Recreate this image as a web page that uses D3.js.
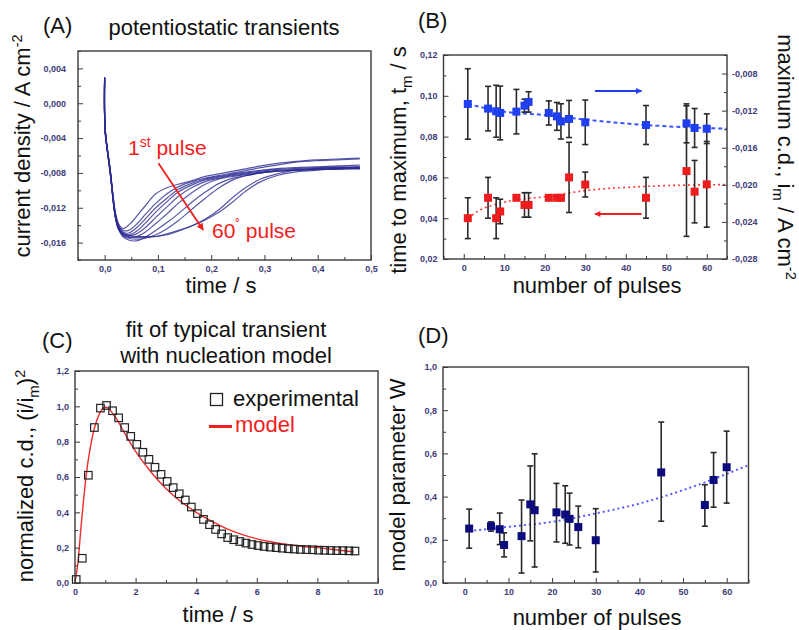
<!DOCTYPE html>
<html>
<head>
<meta charset="utf-8">
<script src="https://cdn.jsdelivr.net/npm/d3@7"></script>
<style>
body { margin: 0; background: #fff; }
svg { display: block; font-family: "Liberation Sans", Arial, sans-serif; }
.axis text { font-family: "Liberation Sans", Arial, sans-serif; font-weight: bold; font-size: 9px; fill: #3d3b78; }
</style>
</head>
<body>
<svg id="chart" width="799" height="630"></svg>
<script>
// (A) potentiostatic transients, shared time base + one row per pulse
var transTime = [0, 0.001, 0.0105, 0.02, 0.026, 0.034, 0.045, 0.06, 0.076, 0.096, 0.117, 0.138, 0.163, 0.189, 0.215, 0.241, 0.267, 0.293, 0.324, 0.355, 0.396, 0.437, 0.479];
var transCurves = [
    [0.0030, -0.0029, -0.0076, -0.0125, -0.0138, -0.0144, -0.0140, -0.0130, -0.0118, -0.0104, -0.0097, -0.0093, -0.0089, -0.0084, -0.0081, -0.0078, -0.0075, -0.0072, -0.0069, -0.0067, -0.0065, -0.0064, -0.0063],
    [0.0029, -0.0030, -0.0077, -0.0126, -0.0140, -0.0146, -0.0146, -0.0139, -0.0128, -0.0115, -0.0104, -0.0096, -0.0090, -0.0086, -0.0083, -0.0080, -0.0077, -0.0074, -0.0071, -0.0068, -0.0066, -0.0065, -0.0064],
    [0.0028, -0.0031, -0.0078, -0.0127, -0.0141, -0.0148, -0.0149, -0.0143, -0.0133, -0.0120, -0.0109, -0.0099, -0.0092, -0.0087, -0.0084, -0.0081, -0.0079, -0.0077, -0.0075, -0.0074, -0.0073, -0.0072, -0.0071],
    [-0.0032, -0.0036, -0.0080, -0.0128, -0.0142, -0.0149, -0.0151, -0.0147, -0.0138, -0.0125, -0.0113, -0.0102, -0.0094, -0.0088, -0.0085, -0.0082, -0.0080, -0.0078, -0.0076, -0.0075, -0.0074, -0.0073, -0.0073],
    [0.0029, -0.0030, -0.0078, -0.0128, -0.0142, -0.0150, -0.0152, -0.0150, -0.0143, -0.0131, -0.0119, -0.0107, -0.0097, -0.0090, -0.0086, -0.0083, -0.0081, -0.0079, -0.0077, -0.0076, -0.0075, -0.0074, -0.0074],
    [0.0030, -0.0030, -0.0079, -0.0129, -0.0143, -0.0151, -0.0154, -0.0153, -0.0148, -0.0138, -0.0127, -0.0115, -0.0103, -0.0093, -0.0087, -0.0084, -0.0082, -0.0080, -0.0078, -0.0077, -0.0076, -0.0075, -0.0075],
    [0.0029, -0.0031, -0.0080, -0.0130, -0.0144, -0.0153, -0.0157, -0.0158, -0.0154, -0.0146, -0.0137, -0.0127, -0.0114, -0.0102, -0.0092, -0.0086, -0.0083, -0.0080, -0.0078, -0.0077, -0.0076, -0.0076, -0.0075],
    [0.0028, -0.0031, -0.0080, -0.0131, -0.0145, -0.0152, -0.0155, -0.0156, -0.0155, -0.0151, -0.0144, -0.0135, -0.0122, -0.0109, -0.0097, -0.0088, -0.0083, -0.0080, -0.0078, -0.0077, -0.0076, -0.0075, -0.0075],
    [0.0029, -0.0030, -0.0079, -0.0130, -0.0144, -0.0150, -0.0152, -0.0153, -0.0153, -0.0153, -0.0151, -0.0147, -0.0141, -0.0133, -0.0122, -0.0108, -0.0096, -0.0087, -0.0081, -0.0077, -0.0075, -0.0074, -0.0074],
    [0.0030, -0.0030, -0.0079, -0.0130, -0.0144, -0.0150, -0.0153, -0.0154, -0.0154, -0.0153, -0.0150, -0.0146, -0.0141, -0.0134, -0.0125, -0.0113, -0.0100, -0.0090, -0.0083, -0.0079, -0.0077, -0.0075, -0.0073]
];
var aTicksX = [0, 0.1, 0.2, 0.3, 0.4, 0.5];
var aMinorX = [-0.05, 0.05, 0.15, 0.25, 0.35, 0.45];
var aTicksY = [-0.016, -0.012, -0.008, -0.004, 0, 0.004];
var aMinorY = [-0.018, -0.014, -0.010, -0.006, -0.002, 0.002, 0.006];
var pulseArrow = [[0.101, -0.0069], [0.185, -0.01455]];

// (B) time to maximum (left axis) and max current density (right axis)
var pulses = [1, 6, 8, 9, 13, 15, 16, 21, 23, 24, 26, 30, 45, 55, 57, 60];
var tMax = [0.040, 0.050, 0.040, 0.0433, 0.050, 0.0465, 0.0465, 0.050, 0.050, 0.050, 0.060, 0.0565, 0.050, 0.0631, 0.053, 0.0566];
var tMaxErr = [0.010, 0.010, 0.010, 0.006, 0.0008, 0.006, 0.006, 0.0008, 0.0008, 0.0008, 0.0172, 0.0061, 0.010, 0.032, 0.0153, 0.021];
var iMax = [-0.01128, -0.01178, -0.01207, -0.01225, -0.01211, -0.01146, -0.01106, -0.01225, -0.01262, -0.01316, -0.0129, -0.01326, -0.01355, -0.01337, -0.01387, -0.01395];
var iMaxErr = [0.0038, 0.0024, 0.0028, 0.0029, 0.0024, 0.0007, 0.0011, 0.0013, 0.0015, 0.0019, 0.0020, 0.0024, 0.0021, 0.0021, 0.0021, 0.0016];
var iTrendX = [1, 10, 20, 30, 45, 65];
var iTrendY = [-0.01128, -0.01211, -0.01247, -0.01297, -0.01355, -0.01395];
var tTrendX = [1, 4, 8, 13, 20, 30, 45, 65];
var tTrendY = [0.0400, 0.0440, 0.0468, 0.0490, 0.0505, 0.0535, 0.0556, 0.0565];
var bArrowX = [32.4, 43.9];
var bArrowBlueY = 0.1024;
var bArrowRedY = 0.0421;
var pulseTicks = [0, 10, 20, 30, 40, 50, 60];
var pulseMinor = [-5, 5, 15, 25, 35, 45, 55, 65];
var bTicksL = [0.02, 0.04, 0.06, 0.08, 0.10, 0.12];
var bMinorL = [0.03, 0.05, 0.07, 0.09, 0.11];
var bTicksR = [-0.028, -0.024, -0.020, -0.016, -0.012, -0.008];
var bMinorR = [-0.026, -0.022, -0.018, -0.014, -0.010, -0.006];

// (C) normalized transient and model fit
var expTime = [0.04, 0.24, 0.44, 0.64, 0.84, 1.04, 1.24, 1.44, 1.64, 1.84, 2.04, 2.24, 2.44, 2.64, 2.84, 3.04, 3.24, 3.44, 3.64, 3.84, 4.04, 4.24, 4.44, 4.64, 4.84, 5.04, 5.24, 5.44, 5.64, 5.84, 6.04, 6.24, 6.44, 6.64, 6.84, 7.04, 7.24, 7.44, 7.64, 7.84, 8.04, 8.24, 8.44, 8.64, 8.84, 9.04, 9.24];
var expValue = [0.02, 0.14, 0.61, 0.88, 0.99, 1.005, 0.975, 0.935, 0.88, 0.83, 0.785, 0.74, 0.70, 0.655, 0.615, 0.575, 0.54, 0.505, 0.47, 0.43, 0.393, 0.36, 0.33, 0.303, 0.278, 0.257, 0.245, 0.235, 0.226, 0.218, 0.212, 0.207, 0.203, 0.20, 0.197, 0.194, 0.192, 0.19, 0.189, 0.188, 0.186, 0.185, 0.184, 0.183, 0.183, 0.182, 0.181];
var modelTime = [0, 0.1, 0.2, 0.3, 0.4, 0.5, 0.6, 0.7, 0.8, 0.9, 1.0, 1.1, 1.2, 1.4, 1.6, 1.8, 2.0, 2.5, 3.0, 3.5, 4.0, 4.5, 5.0, 5.5, 6.0, 6.5, 7.0, 7.5, 8.0, 8.5, 9.0, 9.2];
var modelValue = [0, 0.12, 0.32, 0.50, 0.65, 0.76, 0.85, 0.91, 0.955, 0.985, 0.995, 0.99, 0.97, 0.92, 0.86, 0.80, 0.745, 0.63, 0.535, 0.46, 0.40, 0.35, 0.308, 0.275, 0.25, 0.232, 0.218, 0.207, 0.20, 0.19, 0.18, 0.176];
var cTicksX = [0, 2, 4, 6, 8, 10];
var cMinorX = [1, 3, 5, 7, 9];
var cTicksY = [0, 0.2, 0.4, 0.6, 0.8, 1.0, 1.2];
var cMinorY = [0.1, 0.3, 0.5, 0.7, 0.9, 1.1];

// (D) model parameter W
var wParam = [0.252, 0.263, 0.249, 0.176, 0.217, 0.364, 0.337, 0.327, 0.317, 0.297, 0.259, 0.198, 0.512, 0.361, 0.477, 0.536];
var wLow = [0.161, 0.240, 0.178, 0.121, 0.046, 0.195, 0.074, 0.190, 0.184, 0.176, 0.163, 0.051, 0.286, 0.263, 0.351, 0.370];
var wHigh = [0.342, 0.283, 0.324, 0.232, 0.384, 0.542, 0.598, 0.461, 0.450, 0.416, 0.356, 0.344, 0.745, 0.455, 0.604, 0.703];
var wTrendX = [1, 10, 20, 30, 40, 50, 60, 65];
var wTrendY = [0.241, 0.260, 0.283, 0.322, 0.368, 0.430, 0.505, 0.546];
var dTicksY = [0, 0.2, 0.4, 0.6, 0.8, 1.0];
var dMinorY = [0.1, 0.3, 0.5, 0.7, 0.9];

var loc = d3.formatLocale({decimal: ",", thousands: ".", grouping: [3], currency: ["", ""], minus: "-"});
var svg = d3.select("#chart");
var defs = svg.append("defs");

function arrowHead(id, color, w, h) {
    defs.append("marker")
        .attr("id", id)
        .attr("viewBox", "0 0 10 10")
        .attr("refX", 9).attr("refY", 5)
        .attr("markerUnits", "userSpaceOnUse")
        .attr("markerWidth", w).attr("markerHeight", h)
        .attr("orient", "auto")
        .append("path").attr("d", "M0,0L10,5L0,10z").attr("fill", color);
}
arrowHead("headRed", "#f21d1d", 9, 7);
arrowHead("headBlue", "#1f3ff0", 10, 6);
arrowHead("headRed2", "#f02020", 10, 6);

function frame(x, y) {
    svg.append("rect")
        .attr("x", x.range()[0]).attr("y", y.range()[1])
        .attr("width", x.range()[1] - x.range()[0])
        .attr("height", y.range()[0] - y.range()[1])
        .attr("fill", "none").attr("stroke", "#3a3a3a").attr("stroke-width", 1.4);
}

function axis(orient, scale, pos, major, minor, fmt, pad) {
    var make = {bottom: d3.axisBottom, left: d3.axisLeft, right: d3.axisRight}[orient];
    var tr = orient === "bottom" ? "translate(0," + pos + ")" : "translate(" + pos + ",0)";
    svg.append("g").attr("transform", tr).attr("color", "#3a3a3a")
        .call(make(scale).tickValues(minor).tickSize(-3).tickFormat(""))
        .call(function(g) { g.select(".domain").remove(); });
    svg.append("g").attr("class", "axis").attr("transform", tr).attr("color", "#3a3a3a")
        .call(make(scale).tickValues(major).tickSize(-5).tickPadding(pad).tickFormat(fmt))
        .call(function(g) { g.select(".domain").remove(); });
}

// text with an optional sub/superscript piece: parts = [[text, "sup"|"sub"|""], ...]
function richText(x, y, angle, anchor, size, color, parts) {
    var t = svg.append("text")
        .attr("transform", "translate(" + x + "," + y + ") rotate(" + angle + ")")
        .attr("text-anchor", anchor)
        .attr("font-size", size + "px")
        .attr("fill", color);
    var shift = 0;
    parts.forEach(function(p) {
        var dy = 0, fs = size;
        if (p[1] === "sup") { dy = -0.38 * size; fs = 0.66 * size; }
        if (p[1] === "sub") { dy = 0.25 * size; fs = 0.68 * size; }
        t.append("tspan").attr("dy", dy - shift).attr("font-size", fs + "px").text(p[0]);
        shift = dy;
    });
    return t;
}

function squares(x, y, xs, ys, size, fill, stroke) {
    svg.append("g").selectAll("rect").data(xs).enter().append("rect")
        .attr("x", function(d) { return x(d) - size / 2; })
        .attr("y", function(d, i) { return y(ys[i]) - size / 2; })
        .attr("width", size).attr("height", size)
        .attr("fill", fill)
        .attr("stroke", stroke || "none")
        .attr("stroke-width", stroke ? 1.2 : 0);
}

function errorBars(x, y, xs, lo, hi) {
    var g = svg.append("g").attr("stroke", "#2a2a2a").attr("stroke-width", 1.6);
    xs.forEach(function(d, i) {
        var px = x(d);
        g.append("line").attr("x1", px).attr("x2", px).attr("y1", y(lo[i])).attr("y2", y(hi[i]));
        g.append("line").attr("x1", px - 3).attr("x2", px + 3).attr("y1", y(lo[i])).attr("y2", y(lo[i]));
        g.append("line").attr("x1", px - 3).attr("x2", px + 3).attr("y1", y(hi[i])).attr("y2", y(hi[i]));
    });
}

function pathOf(x, y, xs, ys, curve) {
    return d3.line().curve(curve || d3.curveMonotoneX)
        .x(function(d) { return x(d); })
        .y(function(d, i) { return y(ys[i]); })(xs);
}

// ---------------- (A)
var xA = d3.scaleLinear().domain([-0.05, 0.5]).range([78, 371]);
var yA = d3.scaleLinear().domain([-0.018, 0.006]).range([260, 51]);

svg.append("g").selectAll("path").data(transCurves).enter().append("path")
    .attr("d", function(c) { return pathOf(xA, yA, transTime, c, d3.curveCatmullRom); })
    .attr("fill", "none")
    .attr("stroke", "#2c2c92")
    .attr("stroke-opacity", 0.8)
    .attr("stroke-width", 1.2);

frame(xA, yA);
axis("bottom", xA, 260, aTicksX, aMinorX, loc.format(".1f"), 6);
axis("left", yA, 78, aTicksY, aMinorY, loc.format(".3f"), 12);

svg.append("line")
    .attr("x1", xA(pulseArrow[0][0])).attr("y1", yA(pulseArrow[0][1]))
    .attr("x2", xA(pulseArrow[1][0])).attr("y2", yA(pulseArrow[1][1]))
    .attr("stroke", "#f21d1d").attr("stroke-width", 1.8)
    .attr("marker-end", "url(#headRed)");
richText(xA(0.044), yA(-0.00594), 0, "start", 21, "#f21d1d", [["1", ""], ["st", "sup"], [" pulse", ""]]);
richText(xA(0.2015), yA(-0.01547), 0, "start", 21, "#f21d1d", [["60", ""], ["˚", "sup"], [" pulse", ""]]);

richText(43, 33, 0, "start", 22, "#111", [["(A)", ""]]);
richText(224, 35, 0, "middle", 22, "#111", [["potentiostatic transients", ""]]);
richText(221, 293, 0, "middle", 22, "#111", [["time / s", ""]]);
richText(30, 146, -90, "middle", 22, "#111", [["current density / A cm", ""], ["-2", "sup"]]);

// ---------------- (B)
var xB = d3.scaleLinear().domain([-5, 65]).range([443.5, 727]);
var yBl = d3.scaleLinear().domain([0.02, 0.12]).range([259, 55]);
var yBr = d3.scaleLinear().domain([-0.028, -0.006]).range([259, 55]);

svg.append("path").attr("d", pathOf(xB, yBr, iTrendX, iTrendY))
    .attr("fill", "none").attr("stroke", "#3b55ff").attr("stroke-width", 2).attr("stroke-dasharray", "4,3");
svg.append("path").attr("d", pathOf(xB, yBl, tTrendX, tTrendY))
    .attr("fill", "none").attr("stroke", "#ff3b3b").attr("stroke-width", 1.6).attr("stroke-dasharray", "2,3");

errorBars(xB, yBl, pulses,
    tMax.map(function(d, i) { return d - tMaxErr[i]; }),
    tMax.map(function(d, i) { return d + tMaxErr[i]; }));
errorBars(xB, yBr, pulses,
    iMax.map(function(d, i) { return d - iMaxErr[i]; }),
    iMax.map(function(d, i) { return d + iMaxErr[i]; }));
squares(xB, yBl, pulses, tMax, 8, "#ee1c1c");
squares(xB, yBr, pulses, iMax, 8, "#1f3ff0");

svg.append("line")
    .attr("x1", xB(bArrowX[0])).attr("x2", xB(bArrowX[1]))
    .attr("y1", yBl(bArrowBlueY)).attr("y2", yBl(bArrowBlueY))
    .attr("stroke", "#1f3ff0").attr("stroke-width", 2).attr("marker-end", "url(#headBlue)");
svg.append("line")
    .attr("x1", xB(bArrowX[1])).attr("x2", xB(bArrowX[0]))
    .attr("y1", yBl(bArrowRedY)).attr("y2", yBl(bArrowRedY))
    .attr("stroke", "#f02020").attr("stroke-width", 2).attr("marker-end", "url(#headRed2)");

frame(xB, yBl);
axis("bottom", xB, 259, pulseTicks, pulseMinor, loc.format("d"), 6);
axis("left", yBl, 443.5, bTicksL, bMinorL, loc.format(".2f"), 6);
axis("right", yBr, 727, bTicksR, bMinorR, loc.format(".3f"), 5);

richText(418, 28, 0, "start", 22, "#111", [["(B)", ""]]);
richText(597, 293, 0, "middle", 22, "#111", [["number of pulses", ""]]);
richText(406, 160, -90, "middle", 22, "#111", [["time to maximum, t", ""], ["m", "sub"], [" / s", ""]]);
richText(778, 157, 90, "middle", 22, "#111", [["maximum c.d., i", ""], ["m", "sub"], [" / A cm", ""], ["-2", "sup"]]);

// ---------------- (C)
var xC = d3.scaleLinear().domain([0, 10]).range([75, 378]);
var yC = d3.scaleLinear().domain([0, 1.2]).range([583, 371]);

svg.append("path").attr("d", pathOf(xC, yC, modelTime, modelValue))
    .attr("fill", "none").attr("stroke", "#f22a2a").attr("stroke-width", 1.4);
squares(xC, yC, expTime, expValue, 7.5, "none", "#222");

frame(xC, yC);
axis("bottom", xC, 583, cTicksX, cMinorX, loc.format("d"), 6);
axis("left", yC, 75, cTicksY, cMinorY, loc.format(".1f"), 6);

// legend
svg.append("rect").attr("x", 210.5).attr("y", 393.5).attr("width", 12).attr("height", 12)
    .attr("fill", "none").attr("stroke", "#222").attr("stroke-width", 1.3);
richText(233, 406, 0, "start", 22, "#111", [["experimental", ""]]);
svg.append("line").attr("x1", 209).attr("x2", 232).attr("y1", 426.5).attr("y2", 426.5)
    .attr("stroke", "#f21d1d").attr("stroke-width", 3);
richText(235, 432, 0, "start", 22, "#f21d1d", [["model", ""]]);

richText(42, 348, 0, "start", 22, "#111", [["(C)", ""]]);
richText(226, 337, 0, "middle", 22, "#111", [["fit of typical transient", ""]]);
richText(226, 363, 0, "middle", 22, "#111", [["with nucleation model", ""]]);
richText(218, 622, 0, "middle", 22, "#111", [["time / s", ""]]);
richText(33, 476, -90, "middle", 22, "#111", [["normalized c.d., (i/i", ""], ["m", "sub"], [")", ""], ["2", "sup"]]);

// ---------------- (D)
var xD = d3.scaleLinear().domain([-5, 65]).range([443, 748.5]);
var yD = d3.scaleLinear().domain([0, 1]).range([583, 367]);

svg.append("path").attr("d", pathOf(xD, yD, wTrendX, wTrendY))
    .attr("fill", "none").attr("stroke", "#5a5aff").attr("stroke-width", 2).attr("stroke-dasharray", "2,3");
errorBars(xD, yD, pulses, wLow, wHigh);
squares(xD, yD, pulses, wParam, 8, "#0b0b7e");

frame(xD, yD);
axis("bottom", xD, 583, pulseTicks, pulseMinor, loc.format("d"), 6);
axis("left", yD, 443, dTicksY, dMinorY, loc.format(".1f"), 6);

richText(418, 343, 0, "start", 22, "#111", [["(D)", ""]]);
richText(597, 625, 0, "middle", 22, "#111", [["number of pulses", ""]]);
richText(405, 475, -90, "middle", 22, "#111", [["model parameter W", ""]]);
</script>
</body>
</html>
